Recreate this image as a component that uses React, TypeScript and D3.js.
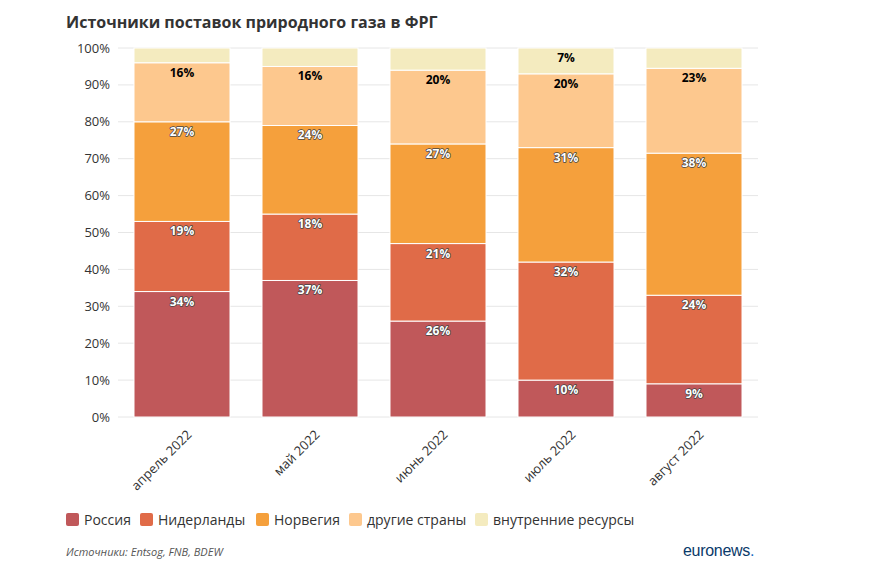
import React from "react";
import * as d3 from "d3";

const months = ["апрель 2022", "май 2022", "июнь 2022", "июль 2022", "август 2022"];
const seriesNames = ["Россия", "Нидерланды", "Норвегия", "другие страны", "внутренние ресурсы"];
const russia = [34, 37, 26, 10, 9];
const netherlands = [19, 18, 21, 32, 24];
const norway = [27, 24, 27, 31, 38.5];
const others = [16, 16, 20, 20, 23];
const domestic = [4, 5, 6, 7, 5.5];
const colors = ["#c0585a", "#e06b48", "#f5a03c", "#fdc88e", "#f4ebbf"];
const showLabel = [true, true, true, true, false];

const App: React.FC = () => {
  const width = 877, height = 573;
  const margin = {top: 48, left: 118, right: 119, bottom: 156};
  const x = d3.scaleBand().domain(months).range([margin.left, width - margin.right]).paddingInner(0.25).paddingOuter(0.125);
  const y = d3.scaleLinear().domain([0, 100]).range([height - margin.bottom, margin.top]);
  const all = [russia, netherlands, norway, others, domestic];
  const rows = months.map((m, i) => {
    const r: any = {month: m};
    seriesNames.forEach((s, j) => (r[s] = all[j][i]));
    return r;
  });
  const stack = d3.stack<any>().keys(seriesNames)(rows);
  const font = "'Open Sans', sans-serif";
  const legendX = [66, 140, 256, 349, 475];
  return (
    <svg width={width} height={height} style={{position: "absolute", left: 0, top: 0, background: "#fff"}} fontFamily={font}>
      <text x={66} y={28} fontSize={16} fontWeight="bold" fill="#333">Источники поставок природного газа в ФРГ</text>
      {y.ticks(10).map(t => (
        <g key={t}>
          <line x1={margin.left} x2={width - margin.right} y1={y(t)} y2={y(t)} stroke="#e6e6e6" />
          <text x={margin.left - 8} y={y(t)} dy="0.35em" textAnchor="end" fontSize={13} fill="#333">{t}%</text>
        </g>
      ))}
      {stack.map((layer, j) => (
        <g key={j}>
          {layer.map((d, i) => (
            <rect key={i} x={x(months[i])} width={x.bandwidth()} y={y(d[1])} height={y(d[0]) - y(d[1])}
              fill={colors[j]} stroke="#fff" strokeWidth={1} />
          ))}
          {layer.map((d, i) => {
            const v = Math.floor(all[j][i]);
            if (!showLabel[j] && !(j === 4 && i === 3)) return null;
            const dark = j >= 3;
            return (
              <text key={"t" + i} x={x(months[i])! + x.bandwidth() / 2} y={y(d[1]) + 14} textAnchor="middle"
                fontSize={12} fontWeight="bold" fill={dark ? "#000" : "#fff"}
                stroke={dark ? "none" : "#444"} strokeWidth={dark ? 0 : 1.5} paintOrder="stroke" strokeLinejoin="round">{v}%</text>
            );
          })}
        </g>
      ))}
      {months.map(m => {
        const cx = x(m)! + x.bandwidth() / 2;
        return (
          <text key={m} transform={`translate(${cx + 4},${height - margin.bottom + 12}) rotate(-45)`} textAnchor="end"
            dy="0.7em" fontSize={13} fill="#333">{m}</text>
        );
      })}
      {seriesNames.map((s, j) => (
        <g key={s} transform={`translate(${legendX[j]},513)`}>
          <rect width={13} height={13} rx={2} fill={colors[j]} />
          <text x={18} y={7} dy="0.35em" fontSize={14} fill="#333">{s}</text>
        </g>
      ))}
      <text x={66} y={556} fontSize={11} fontStyle="italic" fill="#555">Источники: Entsog, FNB, BDEW</text>
      <text x={683} y={556} fontSize={16} fill="#0a3a6a" fontFamily="Arial, sans-serif" letterSpacing="-0.3">euronews<tspan fill="#1a6bbf">.</tspan></text>
    </svg>
  );
};

export default App;
